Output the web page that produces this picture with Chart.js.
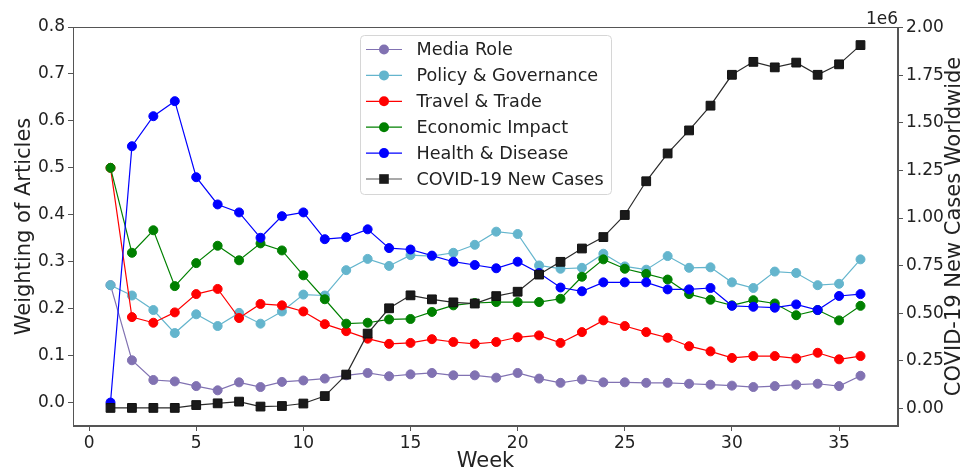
<!DOCTYPE html>
<html>
<head>
<meta charset="utf-8">
<script src="https://cdn.jsdelivr.net/npm/chart.js@4.4.1/dist/chart.umd.min.js"></script>
<style>
  html, body { margin: 0; padding: 0; background: #ffffff; }
  #wrap { width: 978px; height: 474px; position: relative; }
</style>
</head>
<body>
<div id="wrap"><canvas id="chart" width="978" height="474"></canvas></div>
<script>
// Weekly topic weightings of news articles and weekly COVID-19 cases
const weeks = [1,2,3,4,5,6,7,8,9,10,11,12,13,14,15,16,17,18,19,20,21,22,23,24,25,26,27,28,29,30,31,32,33,34,35,36];

const mediaRole = [0.25,0.09,0.048,0.045,0.035,0.026,0.043,0.033,0.044,0.047,0.051,0.058,0.063,0.056,0.06,0.063,0.058,0.058,0.053,0.063,0.051,0.042,0.049,0.043,0.043,0.042,0.042,0.04,0.038,0.036,0.033,0.035,0.038,0.04,0.035,0.057];
const policyGovernance = [0.25,0.228,0.197,0.148,0.188,0.163,0.191,0.168,0.194,0.23,0.228,0.282,0.306,0.291,0.314,0.312,0.319,0.336,0.364,0.359,0.292,0.285,0.287,0.317,0.29,0.283,0.312,0.287,0.288,0.256,0.244,0.279,0.276,0.25,0.253,0.305];
const travelTrade = [0.5,0.182,0.17,0.192,0.231,0.242,0.18,0.21,0.207,0.194,0.167,0.152,0.136,0.125,0.127,0.135,0.129,0.125,0.129,0.139,0.143,0.127,0.15,0.175,0.163,0.15,0.138,0.12,0.109,0.095,0.099,0.099,0.094,0.106,0.092,0.099];
const economicImpact = [0.5,0.319,0.367,0.248,0.297,0.334,0.303,0.339,0.324,0.271,0.22,0.168,0.17,0.177,0.178,0.193,0.207,0.212,0.214,0.214,0.214,0.221,0.268,0.305,0.285,0.274,0.262,0.231,0.219,0.207,0.218,0.211,0.186,0.197,0.175,0.206];
const healthDisease = [0.0,0.546,0.61,0.642,0.48,0.422,0.405,0.351,0.397,0.405,0.348,0.352,0.369,0.329,0.326,0.313,0.3,0.293,0.286,0.3,0.276,0.245,0.237,0.256,0.256,0.256,0.241,0.241,0.244,0.206,0.204,0.202,0.209,0.197,0.227,0.231];
const newCases = [3000,3000,3000,3000,18000,27000,36000,10000,13000,26000,65000,178000,393000,526000,594000,573000,557000,551000,590000,613000,703000,770000,840000,900000,1016000,1193000,1339000,1460000,1590000,1752000,1820000,1791000,1816000,1752000,1807000,1908000];

const weekTicks = [0,5,10,15,20,25,30,35];
const weightTicks = [0.0,0.1,0.2,0.3,0.4,0.5,0.6,0.7,0.8];
const caseTicks = [0,250000,500000,750000,1000000,1250000,1500000,1750000,2000000];

const seriesNames = ['Media Role','Policy & Governance','Travel & Trade','Economic Impact','Health & Disease','COVID-19 New Cases'];
const seriesColors = ['#8172b2','#64b5cd','#ff0000','#008000','#0000ff','#1a1a1a'];

const FONT = 'DejaVu Sans';
const TEXT = '#222222';
const AXIS = '#555555';

const pts = arr => weeks.map((w, i) => ({ x: w, y: arr[i] }));

function weightSeries(idx, values, order) {
  return {
    label: seriesNames[idx],
    data: pts(values),
    yAxisID: 'y',
    order: order,
    borderColor: seriesColors[idx],
    backgroundColor: seriesColors[idx],
    pointBackgroundColor: seriesColors[idx],
    pointBorderColor: seriesColors[idx],
    borderWidth: 1.2,
    pointRadius: 4.5,
    pointBorderWidth: 1,
    pointStyle: 'circle',
    tension: 0
  };
}

// Frame, legend box, offset label and right-hand axis title
const decorations = {
  id: 'decorations',
  afterDraw(chart) {
    const ctx = chart.ctx;
    const a = chart.chartArea;
    ctx.save();
    ctx.strokeStyle = AXIS;
    ctx.lineWidth = 1;
    ctx.strokeRect(Math.round(a.left) + 0.5, Math.round(a.top) + 0.5,
                   Math.round(a.right - a.left) - 1, Math.round(a.bottom - a.top) - 1);

    // scale multiplier above the right axis
    ctx.fillStyle = TEXT;
    ctx.font = '17px "' + FONT + '"';
    ctx.textAlign = 'right';
    ctx.textBaseline = 'alphabetic';
    ctx.fillText('1e6', a.right, 24);

    // right axis title, reading bottom to top
    ctx.save();
    ctx.translate(955, (a.top + a.bottom) / 2);
    ctx.rotate(-Math.PI / 2);
    ctx.font = '21px "' + FONT + '"';
    ctx.textAlign = 'center';
    ctx.textBaseline = 'middle';
    ctx.fillText('COVID-19 New Cases Worldwide', 0, 0);
    ctx.restore();

    // legend
    const bx = 360.5, by = 35.5, bw = 251, bh = 159, r = 4;
    ctx.beginPath();
    ctx.moveTo(bx + r, by);
    ctx.lineTo(bx + bw - r, by);
    ctx.quadraticCurveTo(bx + bw, by, bx + bw, by + r);
    ctx.lineTo(bx + bw, by + bh - r);
    ctx.quadraticCurveTo(bx + bw, by + bh, bx + bw - r, by + bh);
    ctx.lineTo(bx + r, by + bh);
    ctx.quadraticCurveTo(bx, by + bh, bx, by + bh - r);
    ctx.lineTo(bx, by + r);
    ctx.quadraticCurveTo(bx, by, bx + r, by);
    ctx.closePath();
    ctx.fillStyle = 'rgba(255,255,255,0.85)';
    ctx.fill();
    ctx.strokeStyle = '#d6d6d6';
    ctx.stroke();

    ctx.font = '17.6px "' + FONT + '"';
    ctx.textAlign = 'left';
    ctx.textBaseline = 'middle';
    for (let i = 0; i < seriesNames.length; i++) {
      const y = 49.5 + i * 25.9;
      const col = seriesColors[i];
      ctx.strokeStyle = i === 5 ? '#555555' : col;
      ctx.lineWidth = 1.2;
      ctx.beginPath();
      ctx.moveTo(366, y);
      ctx.lineTo(402, y);
      ctx.stroke();
      ctx.fillStyle = col;
      if (i === 5) {
        ctx.fillRect(379.2, y - 4.8, 9.6, 9.6);
      } else {
        ctx.beginPath();
        ctx.arc(384, y, 5, 0, Math.PI * 2);
        ctx.fill();
      }
      ctx.fillStyle = TEXT;
      ctx.fillText(seriesNames[i], 416.5, y + 1);
    }
    ctx.restore();
  }
};

const tickFont = { family: FONT, size: 17 };
const titleFont = { family: FONT, size: 21 };

new Chart(document.getElementById('chart'), {
  type: 'line',
  data: {
    datasets: [
      {
        label: seriesNames[5],
        data: pts(newCases),
        yAxisID: 'y1',
        order: 0,
        borderColor: '#2a2a2a',
        backgroundColor: seriesColors[5],
        pointBackgroundColor: seriesColors[5],
        pointBorderColor: '#111111',
        borderWidth: 1.2,
        pointStyle: 'rect',
        pointRadius: 6.2,
        pointBorderWidth: 1,
        tension: 0
      },
      weightSeries(4, healthDisease, 1),
      weightSeries(3, economicImpact, 2),
      weightSeries(2, travelTrade, 3),
      weightSeries(1, policyGovernance, 4),
      weightSeries(0, mediaRole, 5)
    ]
  },
  options: {
    responsive: false,
    animation: false,
    devicePixelRatio: 1,
    layout: { padding: { top: 27, left: 0, right: 0, bottom: 0 } },
    plugins: { legend: { display: false }, tooltip: { enabled: false } },
    scales: {
      x: {
        type: 'linear',
        min: -0.75,
        max: 37.75,
        afterBuildTicks: s => { s.ticks = weekTicks.map(v => ({ value: v })); },
        afterFit: s => { s.height = 48; },
        grid: { drawOnChartArea: false, drawTicks: true, tickLength: 5, color: AXIS },
        border: { display: true, color: AXIS },
        ticks: { font: tickFont, color: TEXT, padding: 2, maxRotation: 0, autoSkip: false },
        title: { display: true, text: 'Week', font: titleFont, color: TEXT, padding: 0 }
      },
      y: {
        position: 'left',
        min: -0.05,
        max: 0.8,
        afterBuildTicks: s => { s.ticks = weightTicks.map(v => ({ value: v })); },
        afterFit: s => { s.width = 73; },
        grid: { drawOnChartArea: false, drawTicks: true, tickLength: 5, color: AXIS },
        border: { display: true, color: AXIS },
        ticks: { font: tickFont, color: TEXT, padding: 3, callback: v => v.toFixed(1) },
        title: { display: true, text: 'Weighting of Articles', font: titleFont, color: TEXT, padding: { top: 12, bottom: 0 } }
      },
      y1: {
        position: 'right',
        min: -92000,
        max: 2003000,
        afterBuildTicks: s => { s.ticks = caseTicks.map(v => ({ value: v })); },
        afterFit: s => { s.width = 80; },
        grid: { drawOnChartArea: false, drawTicks: true, tickLength: 5, color: AXIS },
        border: { display: true, color: AXIS },
        ticks: { font: tickFont, color: TEXT, padding: 3, callback: v => (v / 1e6).toFixed(2) }
      }
    }
  },
  plugins: [decorations]
});
</script>
</body>
</html>
